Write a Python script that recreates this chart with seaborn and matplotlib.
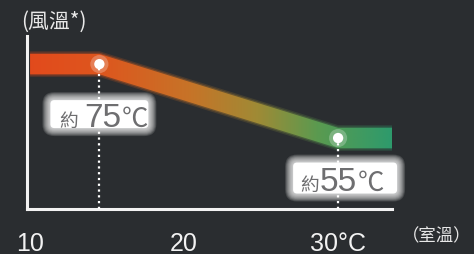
import numpy as np
import matplotlib
matplotlib.use('Agg')
import matplotlib.pyplot as plt
import seaborn as sns
from matplotlib.colors import LinearSegmentedColormap
from matplotlib.patches import FancyBboxPatch
from matplotlib.transforms import IdentityTransform

# data
band_x = [10, 14.5, 30, 33.5]        # room temperature
band_y = [75, 75, 55, 55]            # outlet air temperature
point_x = [14.5, 30]
point_y = [75, 55]
point_val = ['75', '55']
tick_vals = [10, 20, 30]
tick_labels = ['10', '20', '30°C']

BG = '#2a2d30'
sns.set_style('dark', rc={'axes.facecolor': BG, 'figure.facecolor': BG})
plt.rcParams['font.family'] = ['Liberation Sans', 'Noto Sans CJK TC', 'DejaVu Sans']

fig = plt.figure(figsize=(4.74, 2.55), dpi=100)
ax = fig.add_axes([27 / 474, 45 / 255, 365 / 474, 173 / 255])
ax.set_xlim(9.8, 33.5)
ax.set_ylim(35.8, 82.6)

# gradient band clipped to a filled polygon
bx = np.array(band_x, dtype=float)
by = np.array(band_y, dtype=float)
cmap = LinearSegmentedColormap.from_list('band', [
    (0.0, '#e24a1c'), (0.2, '#de561e'), (0.45, '#c67428'),
    (0.63, '#a08a35'), (0.8, '#5a9a50'), (1.0, '#2e9a6c')])
grad = np.linspace(0, 1, 400).reshape(1, -1)
for half, alpha in [(3.5, 0.2), (3.1, 0.35), (2.75, 1.0)]:
    poly = ax.fill_between(bx, by - half, by + half, color='none', lw=0)
    im = ax.imshow(grad, cmap=cmap, aspect='auto', alpha=alpha,
                   extent=(9.8, 33.5, 35.8, 82.6), zorder=2)
    im.set_clip_path(poly.get_paths()[0], transform=ax.transData)
ax.set_xlim(9.8, 33.5)
ax.set_ylim(35.8, 82.6)

# dotted guide lines
for x, y in zip(point_x, point_y):
    ax.plot([x, x], [35.8, y], color='white', lw=1.6,
            linestyle=(0, (1, 1.6)), zorder=3)

# points with glow
sns.scatterplot(x=point_x, y=point_y, s=170, color='white', alpha=0.25,
                edgecolor='none', ax=ax, zorder=5, legend=False)
sns.scatterplot(x=point_x, y=point_y, s=55, color='white',
                edgecolor='none', ax=ax, zorder=6, legend=False)

# blurred white label boxes
fig.canvas.draw()
box_specs = [(0, 50, 110, 40), (7, 40, 116, 43)]  # dx, dy below dot, w, h
txt_off = [(-31, 3, 36), (-28, 0, 33)]
for (x, y), (dx, dy, w, h), (o1, o2, o3), val in zip(
        zip(point_x, point_y), box_specs, txt_off, point_val):
    px, py = ax.transData.transform((x, y))
    cx, cy = px + dx, py - dy
    iw, ih = w - 12, h - 12
    for k in range(10, 0, -1):
        grow = k * 0.8
        fig.add_artist(FancyBboxPatch(
            (cx - iw / 2 - grow, cy - ih / 2 - grow), iw + 2 * grow, ih + 2 * grow,
            boxstyle='round,pad=0,rounding_size=%g' % (4 + grow),
            transform=IdentityTransform(),
            facecolor='white', edgecolor='none', alpha=0.13, zorder=7))
    fig.add_artist(FancyBboxPatch(
        (cx - iw / 2, cy - ih / 2), iw, ih,
        boxstyle='round,pad=0,rounding_size=4', transform=IdentityTransform(),
        facecolor='white', edgecolor='none', zorder=7))
    base = cy - 12
    fig.text(px + o1, base, '約', transform=IdentityTransform(),
             family=['Noto Sans CJK TC'], fontsize=13.5, color='#6e6e70',
             ha='center', va='baseline', zorder=8)
    fig.text(px + o2, base, val, transform=IdentityTransform(),
             fontsize=24, color='#6e6e70', ha='center', va='baseline', zorder=8)
    fig.text(px + o3, base, '℃', transform=IdentityTransform(),
             family=['Noto Sans CJK TC', 'DejaVu Sans'], fontsize=19,
             color='#6e6e70', ha='center', va='baseline', zorder=8)

# axes styling
for s in ['top', 'right']:
    ax.spines[s].set_visible(False)
for s in ['left', 'bottom']:
    ax.spines[s].set_visible(True)
    ax.spines[s].set_color('#f2f2f2')
    ax.spines[s].set_linewidth(2.2)
ax.set_xticks(tick_vals)
ax.set_xticklabels(tick_labels, fontsize=18, color='#f2f2f2')
ax.tick_params(axis='x', length=0, pad=16)
ax.set_yticks([])
ax.grid(False)

fig.text(21 / 474, 1 - 22 / 255, '(風溫*)', family=['Noto Sans CJK TC'],
         fontsize=15, color='#e8e8e8', ha='left', va='center')
fig.text(471 / 474, 1 - 236 / 255, '（室溫）', family=['Noto Sans CJK TC'],
         fontsize=12.5, color='#e8e8e8', ha='right', va='center')

fig.savefig('out.png', dpi=100, facecolor=BG)
